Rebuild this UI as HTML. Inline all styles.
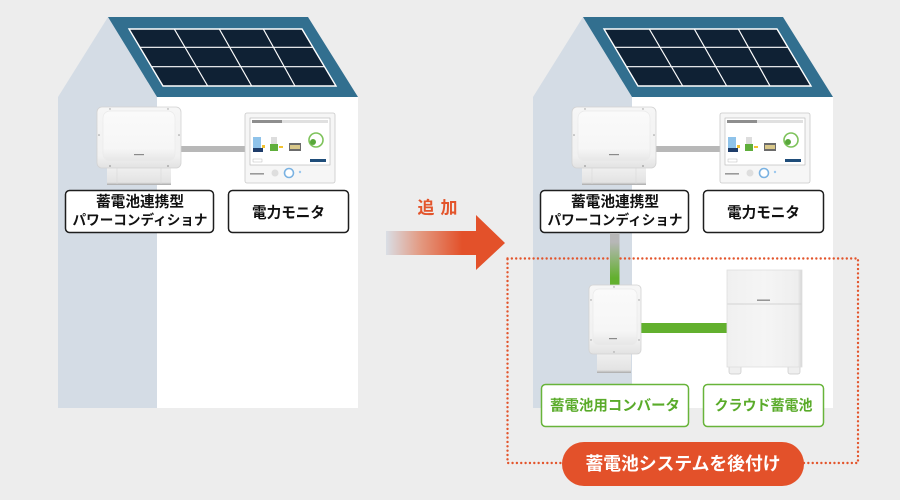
<!DOCTYPE html>
<html><head><meta charset="utf-8">
<style>
html,body{margin:0;padding:0;background:#ededed;}
svg{display:block;}
text{font-family:"Liberation Sans","Noto Sans CJK JP",sans-serif;font-weight:bold;}
</style></head>
<body>
<svg width="900" height="500" viewBox="0 0 900 500" xmlns="http://www.w3.org/2000/svg">
<defs>
  <linearGradient id="arrowG" gradientUnits="userSpaceOnUse" x1="386" y1="0" x2="462" y2="0">
    <stop offset="0" stop-color="#d9dee5"/>
    <stop offset="0.45" stop-color="#e39a82"/>
    <stop offset="1" stop-color="#e3512a"/>
  </linearGradient>
  <linearGradient id="pipeG" gradientUnits="userSpaceOnUse" x1="0" y1="242" x2="0" y2="278">
    <stop offset="0" stop-color="#b7b7b7"/>
    <stop offset="1" stop-color="#62b02e"/>
  </linearGradient>
  <linearGradient id="devG" x1="0" y1="0" x2="0" y2="1">
    <stop offset="0" stop-color="#f6f6f6"/>
    <stop offset="0.8" stop-color="#f1f1f1"/>
    <stop offset="1" stop-color="#e2e2e2"/>
  </linearGradient>
  <linearGradient id="inG" x1="0" y1="0" x2="0" y2="1">
    <stop offset="0" stop-color="#fafafa"/>
    <stop offset="0.75" stop-color="#f6f6f6"/>
    <stop offset="1" stop-color="#e6e6e6"/>
  </linearGradient>
  <linearGradient id="brG" x1="0" y1="0" x2="0" y2="1">
    <stop offset="0" stop-color="#f0f0f0"/>
    <stop offset="0.85" stop-color="#e3e3e3"/>
    <stop offset="1" stop-color="#a9a9a9"/>
  </linearGradient>
  <linearGradient id="batG" x1="0" y1="0" x2="1" y2="0">
    <stop offset="0" stop-color="#f0f0f0"/>
    <stop offset="0.5" stop-color="#f5f5f5"/>
    <stop offset="0.94" stop-color="#eeeeee"/>
    <stop offset="1" stop-color="#d6d6d6"/>
  </linearGradient>

  <g id="house">
    <rect x="137" y="76" width="6" height="32" fill="#b5b5b5"/>
    <rect x="137" y="76" width="14" height="6" fill="#b5b5b5"/>
    <polygon points="108,17 157,97 157,408 58,408 58,97" fill="#d4dce5"/>
    <rect x="157" y="97" width="201" height="311" fill="#ffffff"/>
    <polygon points="108,17 308,17 358,97 157,97" fill="#326f8f"/>
    <polygon points="129,29 302,29 336,86 163,86" fill="#0f2134" stroke="#ffffff" stroke-width="1.4"/>
    <g stroke="#ffffff" stroke-width="1.2">
      <line x1="140" y1="47.3" x2="313" y2="47.3"/>
      <line x1="151.8" y1="66.7" x2="324.5" y2="66.7"/>
      <line x1="174.3" y1="29" x2="207.7" y2="86"/>
      <line x1="219.3" y1="29" x2="251.7" y2="86"/>
      <line x1="263.3" y1="29" x2="295" y2="86"/>
    </g>
    <rect x="180" y="146" width="66" height="6" fill="#b8b8b8"/>
    <rect x="107" y="167" width="64" height="18" fill="url(#brG)"/>
    <line x1="117" y1="168" x2="117" y2="184" stroke="#d8d8d8" stroke-width="0.6"/>
    <line x1="161" y1="168" x2="161" y2="184" stroke="#d8d8d8" stroke-width="0.6"/>
    <rect x="97" y="107" width="84" height="61" rx="5" fill="url(#devG)" stroke="#d2d2d2" stroke-width="0.8"/>
    <rect x="103" y="111" width="72" height="50" rx="7" fill="url(#inG)" stroke="#eaeaea" stroke-width="0.7"/>
    <rect x="134" y="154" width="10" height="1.2" fill="#8a8a8a"/>
    <g fill="#9a9a9a">
      <circle cx="99" cy="135" r="0.8"/><circle cx="179" cy="135" r="0.8"/>
      <circle cx="110" cy="166" r="0.9"/><circle cx="168" cy="166" r="0.9"/>
      <circle cx="110" cy="109" r="0.7"/><circle cx="168" cy="109" r="0.7"/>
    </g>
    <rect x="245" y="113" width="90" height="70" rx="2" fill="#f6f6f6" stroke="#c9c9c9" stroke-width="0.8"/>
    <rect x="250" y="118" width="80" height="47" fill="#ffffff" stroke="#b3b3b3" stroke-width="0.6"/>
    <rect x="252" y="120" width="76" height="3" fill="#e0e0e0"/>
    <rect x="252" y="120" width="30" height="3" fill="#8e8e8e"/>
    <rect x="253" y="137" width="8" height="12" fill="#8fc3ea"/>
    <rect x="253" y="148" width="10" height="4" fill="#1f3d6a"/>
    <rect x="262" y="145" width="3" height="3" fill="#f2c230"/>
    <rect x="271" y="137" width="6" height="7" fill="#dddddd"/>
    <rect x="270" y="144" width="8" height="7" fill="#5fae3b"/>
    <rect x="279" y="146" width="4" height="2" fill="#f2c230"/>
    <rect x="289" y="143" width="12" height="8" fill="#6b6b6b"/>
    <rect x="290" y="145" width="10" height="4" fill="#d9c88a"/>
    <circle cx="316" cy="140" r="7" fill="none" stroke="#7dc25a" stroke-width="1.6"/>
    <circle cx="313" cy="142" r="3" fill="#58a83a"/>
    <rect x="253" y="159" width="9" height="3" fill="#ffffff" stroke="#aaaaaa" stroke-width="0.4"/>
    <rect x="310" y="159" width="16" height="3" fill="#1f4d7a"/>
    <rect x="250" y="173" width="14" height="1.6" fill="#9a9a9a"/>
    <circle cx="275" cy="173" r="3.5" fill="#dedede"/>
    <circle cx="289" cy="173" r="4.5" fill="#ffffff" stroke="#7ab2e2" stroke-width="1.6"/>
    <circle cx="300" cy="172" r="1.2" fill="#9cc8ee"/>
    <rect x="65.5" y="190.5" width="148" height="42" rx="4" fill="#ffffff" stroke="#1e1e1e" stroke-width="1.5"/>
    <text x="140" y="202" font-size="15" text-anchor="middle" dominant-baseline="central" fill="#111" textLength="88" lengthAdjust="spacingAndGlyphs">蓄電池連携型</text>
    <text x="140" y="220" font-size="14" text-anchor="middle" dominant-baseline="central" fill="#111" textLength="135" lengthAdjust="spacingAndGlyphs">パワーコンディショナ</text>
    <rect x="228.5" y="190.5" width="120" height="42" rx="4" fill="#ffffff" stroke="#1e1e1e" stroke-width="1.5"/>
    <text x="288.5" y="213" font-size="15" text-anchor="middle" dominant-baseline="central" fill="#111" textLength="73" lengthAdjust="spacingAndGlyphs">電力モニタ</text>
  </g>
</defs>

<rect width="900" height="500" fill="#ededed"/>

<use href="#house"/>
<g transform="translate(475,0)"><use href="#house"/></g>

<rect x="386" y="231" width="91" height="24" fill="url(#arrowG)"/>
<polygon points="476,215 505,243 476,270" fill="#e3512a"/>
<text x="437.5" y="208" font-size="17" text-anchor="middle" dominant-baseline="central" fill="#e3552c" textLength="40" lengthAdjust="spacing">追加</text>

<rect x="507.5" y="258.5" width="350.5" height="204.5" fill="none" stroke="#e3552c" stroke-width="2.4" stroke-linecap="round" stroke-dasharray="0 4.35"/>

<rect x="610" y="233" width="9.5" height="53" fill="url(#pipeG)"/>
<rect x="640" y="323" width="88" height="10" fill="#62b02e"/>

<rect x="597" y="353" width="34" height="20" fill="url(#brG)"/>
<rect x="589" y="285" width="52" height="69" rx="4" fill="url(#devG)" stroke="#d2d2d2" stroke-width="0.8"/>
<rect x="593" y="289" width="44" height="56" rx="6" fill="url(#inG)" stroke="#eaeaea" stroke-width="0.7"/>
<rect x="609" y="338" width="8" height="1.2" fill="#8a8a8a"/>
<g fill="#9a9a9a">
  <circle cx="591" cy="300" r="0.7"/><circle cx="639" cy="300" r="0.7"/>
  <circle cx="591" cy="340" r="0.7"/><circle cx="639" cy="340" r="0.7"/>
  <circle cx="614" cy="287" r="0.7"/><circle cx="614" cy="352" r="0.7"/>
</g>

<rect x="729" y="364" width="12" height="10" rx="2" fill="#efefef" stroke="#c8c8c8" stroke-width="0.7"/>
<rect x="788" y="364" width="12" height="10" rx="2" fill="#efefef" stroke="#c8c8c8" stroke-width="0.7"/>
<rect x="727" y="270" width="75" height="97" fill="url(#batG)" stroke="#dedede" stroke-width="0.8"/>
<line x1="727.5" y1="304" x2="801.5" y2="304" stroke="#d3d3d3" stroke-width="1"/>
<rect x="757" y="299.5" width="13" height="1.4" fill="#8c8c8c"/>

<rect x="541.5" y="384.5" width="147" height="42" rx="4" fill="#ffffff" stroke="#68b43a" stroke-width="1.5"/>
<text x="615" y="406.5" font-size="14.5" text-anchor="middle" dominant-baseline="central" fill="#5aab2a" textLength="130" lengthAdjust="spacingAndGlyphs">蓄電池用コンバータ</text>
<rect x="703.5" y="384.5" width="120" height="42" rx="4" fill="#ffffff" stroke="#68b43a" stroke-width="1.5"/>
<text x="763.5" y="406.5" font-size="14.5" text-anchor="middle" dominant-baseline="central" fill="#5aab2a" textLength="98" lengthAdjust="spacingAndGlyphs">クラウド蓄電池</text>

<rect x="562" y="442" width="242" height="44" rx="22" fill="#e3512a"/>
<text x="683" y="464" font-size="18" text-anchor="middle" dominant-baseline="central" fill="#ffffff" textLength="195" lengthAdjust="spacingAndGlyphs">蓄電池システムを後付け</text>
</svg>
</body></html>
